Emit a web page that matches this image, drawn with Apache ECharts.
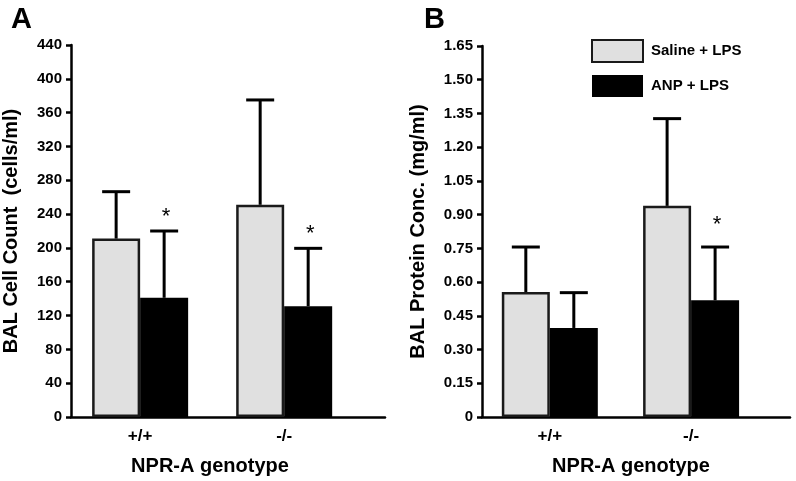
<!DOCTYPE html>
<html>
<head>
<meta charset="utf-8">
<script src="https://cdn.jsdelivr.net/npm/echarts@6/dist/echarts.min.js"></script>
<style>
html,body{margin:0;padding:0;background:#fff;}
#chart{width:796px;height:481px;}
</style>
</head>
<body>
<div id="chart"></div>
<script>
// ---- data ----
const genotypes = ['+/+', '-/-'];
const seriesNames = ['Saline + LPS', 'ANP + LPS'];
// Panel A: BAL cell count (cells/ml)
const cellSaline = [211, 251];
const cellSalineErr = [55.5, 124];
const cellANP = [141, 131];
const cellANPErr = [79, 68.5];
const cellANPSig = [true, true];
const cellTicks = [0, 40, 80, 120, 160, 200, 240, 280, 320, 360, 400, 440];
// Panel B: BAL protein conc (mg/ml)
const protSaline = [0.556, 0.939];
const protSalineErr = [0.200, 0.388];
const protANP = [0.396, 0.519];
const protANPErr = [0.157, 0.237];
const protANPSig = [false, true];
const protTicks = [0, 0.15, 0.30, 0.45, 0.60, 0.75, 0.90, 1.05, 1.20, 1.35, 1.50, 1.65];

// ---- style ----
const FONT = 'Liberation Sans, Arial, sans-serif';
const BAR_W = 48;
const SALINE_COLOR = '#e0e0e0';
const EDGE = '#1a1a1a';

const chart = echarts.init(document.getElementById('chart'));

function pts(vals) { return vals.map((v, i) => [i + 0.5, v]); }
function errPts(vals, errs, sig) { return vals.map((v, i) => [i + 0.5, v, errs[i], sig ? (sig[i] ? 1 : 0) : 0]); }

function errorRender(offset, starGap) {
  return function (params, api) {
    const x = api.value(0), m = api.value(1), e = api.value(2), s = api.value(3);
    const base = api.coord([x, m]);
    const top = api.coord([x, m + e]);
    const cx = base[0] + offset;
    const children = [
      { type: 'line', shape: { x1: cx, y1: base[1], x2: cx, y2: top[1] }, style: { stroke: '#000', lineWidth: 3 } },
      { type: 'line', shape: { x1: cx - 14, y1: top[1], x2: cx + 14, y2: top[1] }, style: { stroke: '#000', lineWidth: 3 } }
    ];
    if (s) {
      children.push({ type: 'text', style: { x: cx + 2, y: top[1] - starGap, text: '*', fill: '#000', font: '22px ' + FONT, align: 'center', verticalAlign: 'middle' } });
    }
    return { type: 'group', children: children };
  };
}

function xAxisFor(gridIndex) {
  return {
    type: 'value', gridIndex: gridIndex, min: 0.02, max: 2.2,
    axisLine: { show: true, onZero: false, lineStyle: { color: '#000', width: 2.5 } },
    axisTick: { show: false },
    splitLine: { show: false },
    axisLabel: {
      customValues: [0.5, 1.5],
      formatter: v => genotypes[Math.round(v - 0.5)],
      color: '#000', fontFamily: FONT, fontWeight: 'bold', fontSize: 17, margin: 11
    }
  };
}

function yAxisFor(gridIndex, ticks, name, gap, fmt) {
  const step = ticks[1] - ticks[0];
  return {
    type: 'value', gridIndex: gridIndex, min: ticks[0], max: ticks[ticks.length - 1], interval: step,
    name: name, nameLocation: 'middle', nameGap: gap,
    nameTextStyle: { color: '#000', fontFamily: FONT, fontWeight: 'bold', fontSize: 20 },
    axisLine: { show: true, lineStyle: { color: '#000', width: 2.5 } },
    axisTick: { show: true, length: 5, lineStyle: { color: '#000', width: 2.5 } },
    splitLine: { show: false },
    axisLabel: { color: '#000', fontFamily: FONT, fontWeight: 'bold', fontSize: 15, margin: 9, formatter: fmt }
  };
}

const option = {
  animation: false,
  backgroundColor: '#fff',
  title: [
    { text: 'A', left: 6, top: 0, textStyle: { fontFamily: FONT, fontWeight: 'bold', fontSize: 29, color: '#000' } },
    { text: 'B', left: 419, top: 0, textStyle: { fontFamily: FONT, fontWeight: 'bold', fontSize: 29, color: '#000' } },
    { text: 'NPR-A genotype', left: 205, top: 451, textAlign: 'center', textStyle: { fontFamily: FONT, fontWeight: 'bold', fontSize: 20, color: '#000' } },
    { text: 'NPR-A genotype', left: 626, top: 451, textAlign: 'center', textStyle: { fontFamily: FONT, fontWeight: 'bold', fontSize: 20, color: '#000' } }
  ],
  legend: {
    data: seriesNames, orient: 'vertical', left: 586, top: 34, itemWidth: 51, itemHeight: 22, itemGap: 12,
    icon: 'rect',
    textStyle: { fontFamily: FONT, fontWeight: 'bold', fontSize: 15, color: '#000', padding: [0, 0, 0, 3] }
  },
  grid: [
    { left: 71, right: 411, top: 45, bottom: 64 },
    { left: 482, right: 6, top: 46, bottom: 64 }
  ],
  xAxis: [xAxisFor(0), xAxisFor(1)],
  yAxis: [
    yAxisFor(0, cellTicks, 'BAL Cell Count  (cells/ml)', 50, v => String(v)),
    yAxisFor(1, protTicks, 'BAL Protein Conc. (mg/ml)', 54, v => v === 0 ? '0' : v.toFixed(2))
  ],
  series: [
    { name: seriesNames[0], type: 'bar', xAxisIndex: 0, yAxisIndex: 0, data: pts(cellSaline), barWidth: BAR_W, barGap: '0%',
      itemStyle: { color: SALINE_COLOR, borderColor: EDGE, borderWidth: 2.5 } },
    { name: seriesNames[1], type: 'bar', xAxisIndex: 0, yAxisIndex: 0, data: pts(cellANP), barWidth: BAR_W, barGap: '0%',
      itemStyle: { color: '#000', borderColor: '#000', borderWidth: 0 } },
    { name: seriesNames[0], type: 'bar', xAxisIndex: 1, yAxisIndex: 1, data: pts(protSaline), barWidth: BAR_W, barGap: '0%',
      itemStyle: { color: SALINE_COLOR, borderColor: EDGE, borderWidth: 2.5 } },
    { name: seriesNames[1], type: 'bar', xAxisIndex: 1, yAxisIndex: 1, data: pts(protANP), barWidth: BAR_W, barGap: '0%',
      itemStyle: { color: '#000', borderColor: '#000', borderWidth: 0 } },
    { type: 'custom', xAxisIndex: 0, yAxisIndex: 0, renderItem: errorRender(-BAR_W / 2, 14), data: errPts(cellSaline, cellSalineErr, null), z: 5 },
    { type: 'custom', xAxisIndex: 0, yAxisIndex: 0, renderItem: errorRender(BAR_W / 2, 14), data: errPts(cellANP, cellANPErr, cellANPSig), z: 5 },
    { type: 'custom', xAxisIndex: 1, yAxisIndex: 1, renderItem: errorRender(-BAR_W / 2, 22), data: errPts(protSaline, protSalineErr, null), z: 5 },
    { type: 'custom', xAxisIndex: 1, yAxisIndex: 1, renderItem: errorRender(BAR_W / 2, 22), data: errPts(protANP, protANPErr, protANPSig), z: 5 }
  ]
};
chart.setOption(option);
</script>
</body>
</html>
